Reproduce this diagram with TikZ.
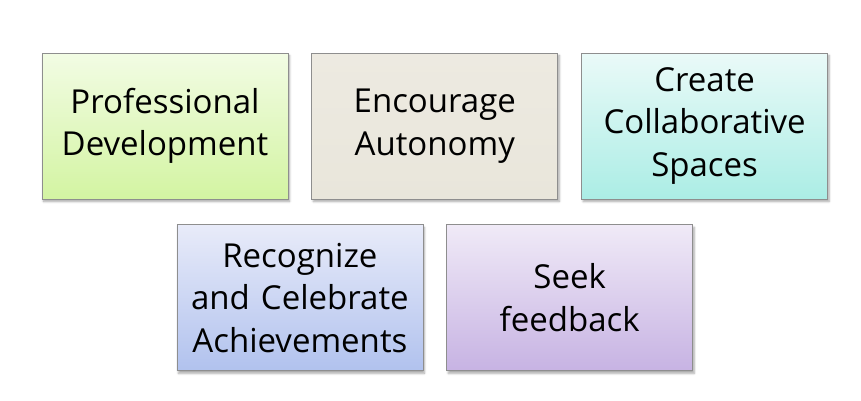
\documentclass[tikz,border=0pt]{standalone}
\usepackage{fontspec}
\setmainfont{Open Sans}
\usetikzlibrary{positioning, calc, shadows.blur}

\definecolor{profTop}{HTML}{F2FCE4}
\definecolor{profBot}{HTML}{D3F4A2}
\definecolor{encTop}{HTML}{EDEAE1}
\definecolor{encBot}{HTML}{E9E6DB}
\definecolor{collTop}{HTML}{EAFAF8}
\definecolor{collBot}{HTML}{ABEDE5}
\definecolor{recTop}{HTML}{E8EBF9}
\definecolor{recBot}{HTML}{B1C2EE}
\definecolor{seekTop}{HTML}{F0EAF7}
\definecolor{seekBot}{HTML}{C7B3E3}
\definecolor{edge}{HTML}{8E8E8E}

\begin{document}
\begin{tikzpicture}[
  x=1pt, y=1pt,
  blk/.style args={#1/#2}{rectangle, draw=edge, line width=0.8pt,
              top color=#1, bottom color=#2,
              minimum width=246pt, minimum height=146pt, text width=240pt,
              align=center, inner sep=0pt, font=\fontsize{33}{42.5}\selectfont,
              blur shadow={shadow xshift=1.5pt, shadow yshift=-2.5pt,
                           shadow blur steps=6, shadow opacity=35}}
]
\useasboundingbox (0,0) rectangle (861,-400);
\node[blk=profTop/profBot] (prof) at (165,-126) {Professional\\Development};
\node[blk=encTop/encBot,   right=23pt of prof] (enc)  {Encourage\\Autonomy};
\node[blk=collTop/collBot, right=23pt of enc]  (coll) {Create\\Collaborative\\Spaces};
\coordinate (mid) at ($(prof.south east)!0.5!(enc.south west)$);
\node[blk=recTop/recBot,   below=25pt of mid]  (rec)  {Recognize\\and Celebrate\\Achievements};
\node[blk=seekTop/seekBot, right=23pt of rec]  (seek) {Seek\\feedback};
\end{tikzpicture}
\end{document}
